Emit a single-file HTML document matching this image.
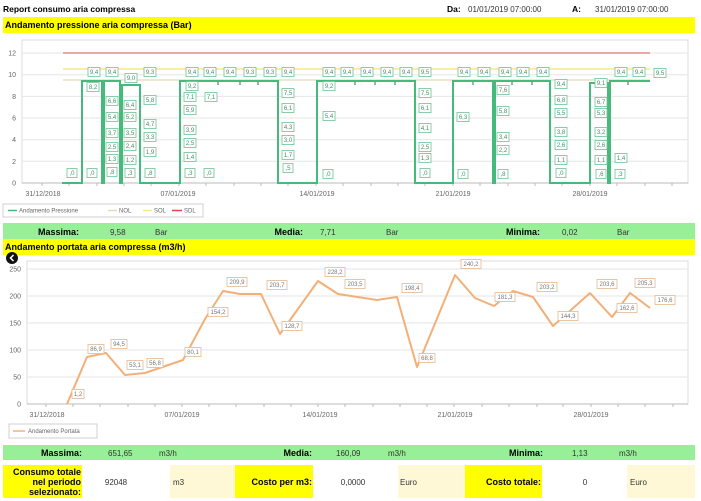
<!DOCTYPE html>
<html><head><meta charset="utf-8"><style>
html,body{margin:0;padding:0;background:#fff;}
svg{display:block;font-family:"Liberation Sans",Arial,sans-serif;}
.b{font-weight:bold;fill:#000;font-size:9px;}
.v{fill:#333;font-size:8px;}
.ax{fill:#666;font-size:7px;}
.gl{stroke:#e6e6e6;stroke-width:1;}
.pl rect{fill:#fff;stroke:#6cc494;stroke-width:0.8;}
.pl text{fill:#4a8a6a;font-size:6px;text-anchor:middle;}
.fl rect{fill:#fff;stroke:#e3b98f;stroke-width:0.8;}
.fl text{fill:#777;font-size:6px;text-anchor:middle;}
</style></head><body>
<svg width="701" height="501" viewBox="0 0 701 501" xmlns="http://www.w3.org/2000/svg">
<!-- header -->
<text x="3" y="12" class="b" style="font-size:8.5px">Report consumo aria compressa</text>
<text x="447" y="12" class="b" style="font-size:8.5px">Da:</text>
<text x="468" y="12" class="v">01/01/2019 07:00:00</text>
<text x="572" y="12" class="b" style="font-size:8.5px">A:</text>
<text x="595" y="12" class="v">31/01/2019 07:00:00</text>
<rect x="3" y="17" width="692" height="16" fill="#ffff00"/>
<text x="5" y="28" class="b">Andamento pressione aria compressa (Bar)</text>

<!-- chart 1 frame/grid -->
<rect x="22" y="40" width="666" height="143" fill="none" stroke="#dcdcdc"/>
<g class="gl">
<line x1="22" y1="161.3" x2="688" y2="161.3"/><line x1="22" y1="139.7" x2="688" y2="139.7"/>
<line x1="22" y1="118" x2="688" y2="118"/><line x1="22" y1="96.4" x2="688" y2="96.4"/>
<line x1="22" y1="74.7" x2="688" y2="74.7"/><line x1="22" y1="53" x2="688" y2="53"/>
</g>
<line x1="22" y1="183" x2="688" y2="183" stroke="#bbb"/>
<g class="ax" text-anchor="end">
<text x="16" y="185.5">0</text><text x="16" y="163.8">2</text><text x="16" y="142.2">4</text>
<text x="16" y="120.5">6</text><text x="16" y="98.9">8</text><text x="16" y="77.2">10</text><text x="16" y="55.5">12</text>
</g>
<g stroke="#bbb">
<line x1="42" y1="183" x2="42" y2="186"/><line x1="69" y1="183" x2="69" y2="186"/><line x1="97" y1="183" x2="97" y2="186"/><line x1="124" y1="183" x2="124" y2="186"/><line x1="151" y1="183" x2="151" y2="186"/><line x1="179" y1="183" x2="179" y2="186"/><line x1="206" y1="183" x2="206" y2="186"/><line x1="234" y1="183" x2="234" y2="186"/><line x1="261" y1="183" x2="261" y2="186"/><line x1="288" y1="183" x2="288" y2="186"/><line x1="316" y1="183" x2="316" y2="186"/><line x1="343" y1="183" x2="343" y2="186"/><line x1="371" y1="183" x2="371" y2="186"/><line x1="398" y1="183" x2="398" y2="186"/><line x1="425" y1="183" x2="425" y2="186"/><line x1="453" y1="183" x2="453" y2="186"/><line x1="480" y1="183" x2="480" y2="186"/><line x1="508" y1="183" x2="508" y2="186"/><line x1="535" y1="183" x2="535" y2="186"/><line x1="562" y1="183" x2="562" y2="186"/><line x1="590" y1="183" x2="590" y2="186"/><line x1="617" y1="183" x2="617" y2="186"/><line x1="645" y1="183" x2="645" y2="186"/><line x1="672" y1="183" x2="672" y2="186"/>
</g>
<g class="ax" text-anchor="middle">
<text x="43" y="196">31/12/2018</text><text x="178" y="196">07/01/2019</text><text x="317" y="196">14/01/2019</text>
<text x="453" y="196">21/01/2019</text><text x="590" y="196">28/01/2019</text>
</g>
<!-- limit lines -->
<line x1="63" y1="53" x2="650" y2="53" stroke="#e88a8a" stroke-width="1.5"/>
<line x1="63" y1="69" x2="650" y2="69" stroke="#f3ec86" stroke-width="1.5"/>
<line x1="63" y1="80" x2="650" y2="80" stroke="#e2dbbd" stroke-width="1.2"/>
<!-- pressure series -->
<polyline fill="none" stroke="#46b97c" stroke-width="2" points="62,183 82,183 82,81 102,81 102,183 104,183 104,81 120,81 120,183 122,183 122,85 140,85 140,183 180,183 180,81 278,81 278,183 317,183 317,81 415,81 415,183 453,183 453,81 493,81 493,183 495,183 495,81 550,81 550,183 590,183 590,83 608,83 608,183 610,183 610,81 650,81"/>
<g stroke="#46b97c" stroke-width="1.5">
<line x1="218" y1="81" x2="218" y2="85"/><line x1="240" y1="81" x2="240" y2="85"/><line x1="258" y1="81" x2="258" y2="85"/>
<line x1="355" y1="81" x2="355" y2="85"/><line x1="375" y1="81" x2="375" y2="85"/><line x1="395" y1="81" x2="395" y2="85"/>
<line x1="473" y1="81" x2="473" y2="85"/><line x1="512" y1="81" x2="512" y2="85"/><line x1="532" y1="81" x2="532" y2="85"/><line x1="628" y1="81" x2="628" y2="85"/>
</g>
<!-- pressure labels -->
<g class="pl">
<rect x="88" y="67.5" width="12" height="9"/><text x="94" y="74">9,4</text>
<rect x="106" y="67.5" width="12" height="9"/><text x="112" y="74">9,4</text>
<rect x="125" y="73.5" width="12" height="9"/><text x="131" y="80">9,0</text>
<rect x="144" y="67.5" width="12" height="9"/><text x="150" y="74">9,3</text>
<rect x="186" y="67.5" width="12" height="9"/><text x="192" y="74">9,4</text>
<rect x="204" y="67.5" width="12" height="9"/><text x="210" y="74">9,4</text>
<rect x="224" y="67.5" width="12" height="9"/><text x="230" y="74">9,4</text>
<rect x="244" y="67.5" width="12" height="9"/><text x="250" y="74">9,3</text>
<rect x="264" y="67.5" width="12" height="9"/><text x="270" y="74">9,3</text>
<rect x="282" y="67.5" width="12" height="9"/><text x="288" y="74">9,4</text>
<rect x="323" y="67.5" width="12" height="9"/><text x="329" y="74">9,4</text>
<rect x="341" y="67.5" width="12" height="9"/><text x="347" y="74">9,4</text>
<rect x="361" y="67.5" width="12" height="9"/><text x="367" y="74">9,4</text>
<rect x="381" y="67.5" width="12" height="9"/><text x="387" y="74">9,4</text>
<rect x="400" y="67.5" width="12" height="9"/><text x="406" y="74">9,4</text>
<rect x="419" y="67.5" width="12" height="9"/><text x="425" y="74">9,5</text>
<rect x="458" y="67.5" width="12" height="9"/><text x="464" y="74">9,4</text>
<rect x="478" y="67.5" width="12" height="9"/><text x="484" y="74">9,4</text>
<rect x="499" y="67.5" width="12" height="9"/><text x="505" y="74">9,4</text>
<rect x="517" y="67.5" width="12" height="9"/><text x="523" y="74">9,4</text>
<rect x="537" y="67.5" width="12" height="9"/><text x="543" y="74">9,4</text>
<rect x="615" y="67.5" width="12" height="9"/><text x="621" y="74">9,4</text>
<rect x="633" y="67.5" width="12" height="9"/><text x="639" y="74">9,4</text>
<rect x="654" y="68.5" width="12" height="9"/><text x="660" y="75">9,5</text>
<rect x="87" y="82.5" width="12" height="9"/><text x="93" y="89">8,2</text>
<rect x="186" y="81.5" width="12" height="9"/><text x="192" y="88">9,2</text>
<rect x="323" y="81.5" width="12" height="9"/><text x="329" y="88">9,2</text>
<rect x="555" y="79.5" width="12" height="9"/><text x="561" y="86">9,4</text>
<rect x="595" y="78.5" width="12" height="9"/><text x="601" y="85">9,1</text>

<rect x="106" y="96.5" width="12" height="9"/><text x="112" y="103">6,6</text>
<rect x="106" y="112.5" width="12" height="9"/><text x="112" y="119">5,4</text>
<rect x="106" y="128.5" width="12" height="9"/><text x="112" y="135">3,7</text>
<rect x="106" y="142.5" width="12" height="9"/><text x="112" y="149">2,5</text>
<rect x="106" y="154.5" width="12" height="9"/><text x="112" y="161">1,3</text>
<rect x="107" y="167.5" width="10" height="9"/><text x="112" y="174">,8</text>

<rect x="124" y="100.5" width="12" height="9"/><text x="130" y="107">6,4</text>
<rect x="124" y="112.5" width="12" height="9"/><text x="130" y="119">5,2</text>
<rect x="124" y="128.5" width="12" height="9"/><text x="130" y="135">3,5</text>
<rect x="124" y="141.5" width="12" height="9"/><text x="130" y="148">2,4</text>
<rect x="124" y="155.5" width="12" height="9"/><text x="130" y="162">1,2</text>
<rect x="125" y="168.5" width="10" height="9"/><text x="130" y="175">,3</text>

<rect x="144" y="95.5" width="12" height="9"/><text x="150" y="102">5,8</text>
<rect x="144" y="119.5" width="12" height="9"/><text x="150" y="126">4,7</text>
<rect x="144" y="132.5" width="12" height="9"/><text x="150" y="139">3,3</text>
<rect x="144" y="147.5" width="12" height="9"/><text x="150" y="154">1,9</text>
<rect x="145" y="168.5" width="10" height="9"/><text x="150" y="175">,8</text>

<rect x="184" y="92.5" width="12" height="9"/><text x="190" y="99">7,1</text>
<rect x="184" y="105.5" width="12" height="9"/><text x="190" y="112">5,9</text>
<rect x="184" y="125.5" width="12" height="9"/><text x="190" y="132">3,9</text>
<rect x="184" y="138.5" width="12" height="9"/><text x="190" y="145">2,5</text>
<rect x="184" y="152.5" width="12" height="9"/><text x="190" y="159">1,4</text>
<rect x="185" y="168.5" width="10" height="9"/><text x="190" y="175">,3</text>
<rect x="205" y="92.5" width="12" height="9"/><text x="211" y="99">7,1</text>

<rect x="282" y="88.5" width="12" height="9"/><text x="288" y="95">7,5</text>
<rect x="282" y="103.5" width="12" height="9"/><text x="288" y="110">6,1</text>
<rect x="282" y="122.5" width="12" height="9"/><text x="288" y="129">4,3</text>
<rect x="282" y="135.5" width="12" height="9"/><text x="288" y="142">3,0</text>
<rect x="282" y="150.5" width="12" height="9"/><text x="288" y="157">1,7</text>
<rect x="283" y="163.5" width="10" height="9"/><text x="288" y="170">,5</text>
<rect x="323" y="111.5" width="12" height="9"/><text x="329" y="118">5,4</text>

<rect x="419" y="88.5" width="12" height="9"/><text x="425" y="95">7,5</text>
<rect x="419" y="103.5" width="12" height="9"/><text x="425" y="110">6,1</text>
<rect x="419" y="123.5" width="12" height="9"/><text x="425" y="130">4,1</text>
<rect x="419" y="142.5" width="12" height="9"/><text x="425" y="149">2,5</text>
<rect x="419" y="153.5" width="12" height="9"/><text x="425" y="160">1,3</text>
<rect x="420" y="168.5" width="10" height="9"/><text x="425" y="175">,0</text>
<rect x="457" y="112.5" width="12" height="9"/><text x="463" y="119">6,3</text>

<rect x="497" y="85.5" width="12" height="9"/><text x="503" y="92">7,6</text>
<rect x="497" y="106.5" width="12" height="9"/><text x="503" y="113">5,8</text>
<rect x="497" y="132.5" width="12" height="9"/><text x="503" y="139">3,4</text>
<rect x="497" y="145.5" width="12" height="9"/><text x="503" y="152">2,2</text>
<rect x="498" y="169.5" width="10" height="9"/><text x="503" y="176">,8</text>

<rect x="555" y="95.5" width="12" height="9"/><text x="561" y="102">6,8</text>
<rect x="555" y="108.5" width="12" height="9"/><text x="561" y="115">5,5</text>
<rect x="555" y="127.5" width="12" height="9"/><text x="561" y="134">3,8</text>
<rect x="555" y="140.5" width="12" height="9"/><text x="561" y="147">2,6</text>
<rect x="555" y="155.5" width="12" height="9"/><text x="561" y="162">1,1</text>
<rect x="556" y="168.5" width="10" height="9"/><text x="561" y="175">,0</text>

<rect x="595" y="97.5" width="12" height="9"/><text x="601" y="104">6,7</text>
<rect x="595" y="108.5" width="12" height="9"/><text x="601" y="115">5,3</text>
<rect x="595" y="127.5" width="12" height="9"/><text x="601" y="134">3,2</text>
<rect x="595" y="140.5" width="12" height="9"/><text x="601" y="147">2,6</text>
<rect x="595" y="155.5" width="12" height="9"/><text x="601" y="162">1,1</text>
<rect x="596" y="169.5" width="10" height="9"/><text x="601" y="176">,6</text>
<rect x="615" y="153.5" width="12" height="9"/><text x="621" y="160">1,4</text>
<rect x="615" y="169.5" width="10" height="9"/><text x="620" y="176">,3</text>

<rect x="67" y="168.5" width="10" height="9"/><text x="72" y="175">,0</text>
<rect x="87" y="168.5" width="10" height="9"/><text x="92" y="175">,0</text>
<rect x="204" y="168.5" width="10" height="9"/><text x="209" y="175">,0</text>
<rect x="323" y="169.5" width="10" height="9"/><text x="328" y="176">,0</text>
<rect x="458" y="169.5" width="10" height="9"/><text x="463" y="176">,0</text>
</g>
<!-- legend 1 -->
<rect x="3" y="204" width="200" height="13" fill="#fff" stroke="#d0d0d0"/>
<line x1="8" y1="210.5" x2="17" y2="210.5" stroke="#46b97c" stroke-width="1.5"/>
<text x="19" y="212.5" class="ax" style="font-size:6px">Andamento Pressione</text>
<line x1="108" y1="210.5" x2="117" y2="210.5" stroke="#e2dbbd" stroke-width="1.5"/>
<text x="119" y="212.5" class="ax" style="font-size:6px">NOL</text>
<line x1="143" y1="210.5" x2="152" y2="210.5" stroke="#f3ec86" stroke-width="1.5"/>
<text x="154" y="212.5" class="ax" style="font-size:6px">SOL</text>
<line x1="172" y1="210.5" x2="182" y2="210.5" stroke="#e04848" stroke-width="1.5"/>
<text x="184" y="212.5" class="ax" style="font-size:6px">SDL</text>

<!-- stats 1 -->
<rect x="3" y="223" width="692" height="16" fill="#97f097"/>
<text x="79" y="235" class="b" text-anchor="end">Massima:</text>
<text x="110" y="235" class="v">9,58</text><text x="155" y="235" class="v">Bar</text>
<text x="303" y="235" class="b" text-anchor="end">Media:</text>
<text x="320" y="235" class="v">7,71</text><text x="386" y="235" class="v">Bar</text>
<text x="540" y="235" class="b" text-anchor="end">Minima:</text>
<text x="562" y="235" class="v">0,02</text><text x="617" y="235" class="v">Bar</text>

<!-- title 2 -->
<rect x="3" y="239" width="692" height="16" fill="#ffff00"/>
<text x="5" y="250" class="b">Andamento portata aria compressa (m3/h)</text>

<!-- chart 2 -->
<rect x="27" y="261" width="661" height="143" fill="none" stroke="#dcdcdc"/>
<g class="gl">
<line x1="27" y1="377" x2="688" y2="377"/><line x1="27" y1="350" x2="688" y2="350"/>
<line x1="27" y1="323" x2="688" y2="323"/><line x1="27" y1="296" x2="688" y2="296"/>
<line x1="27" y1="269" x2="688" y2="269"/>
</g>
<line x1="27" y1="404" x2="688" y2="404" stroke="#bbb"/>
<g class="ax" text-anchor="end">
<text x="21" y="406.5">0</text><text x="21" y="379.5">50</text><text x="21" y="352.5">100</text>
<text x="21" y="325.5">150</text><text x="21" y="298.5">200</text><text x="21" y="271.5">250</text>
</g>
<g stroke="#bbb">
<line x1="46" y1="404" x2="46" y2="407"/><line x1="73" y1="404" x2="73" y2="407"/><line x1="100" y1="404" x2="100" y2="407"/><line x1="128" y1="404" x2="128" y2="407"/><line x1="155" y1="404" x2="155" y2="407"/><line x1="182" y1="404" x2="182" y2="407"/><line x1="209" y1="404" x2="209" y2="407"/><line x1="236" y1="404" x2="236" y2="407"/><line x1="264" y1="404" x2="264" y2="407"/><line x1="291" y1="404" x2="291" y2="407"/><line x1="318" y1="404" x2="318" y2="407"/><line x1="345" y1="404" x2="345" y2="407"/><line x1="373" y1="404" x2="373" y2="407"/><line x1="400" y1="404" x2="400" y2="407"/><line x1="427" y1="404" x2="427" y2="407"/><line x1="454" y1="404" x2="454" y2="407"/><line x1="482" y1="404" x2="482" y2="407"/><line x1="509" y1="404" x2="509" y2="407"/><line x1="537" y1="404" x2="537" y2="407"/><line x1="563" y1="404" x2="563" y2="407"/><line x1="591" y1="404" x2="591" y2="407"/><line x1="618" y1="404" x2="618" y2="407"/><line x1="645" y1="404" x2="645" y2="407"/><line x1="673" y1="404" x2="673" y2="407"/>
</g>
<g class="ax" text-anchor="middle">
<text x="47" y="417">31/12/2018</text><text x="182" y="417">07/01/2019</text><text x="320" y="417">14/01/2019</text>
<text x="455" y="417">21/01/2019</text><text x="591" y="417">28/01/2019</text>
</g>
<polyline fill="none" stroke="#f2b078" stroke-width="2" stroke-linejoin="round" points="67,404 87,357 106,353 125,375 145,373 183,360 205,319 223,291 240,294 261,294 280,334 318,281 338,294 377,300 397,297 417,367 455,275 475,298 494,306 513,291 533,297 553,326 590,293 612,317 630,293 650,308"/>
<g class="fl">
<rect x="72" y="389.5" width="12" height="9"/><text x="78" y="396">1,2</text>
<rect x="88" y="344.5" width="16" height="9"/><text x="96" y="351">86,9</text>
<rect x="111" y="339.5" width="16" height="9"/><text x="119" y="346">94,5</text>
<rect x="127" y="360.5" width="16" height="9"/><text x="135" y="367">53,1</text>
<rect x="147" y="358.5" width="16" height="9"/><text x="155" y="365">56,8</text>
<rect x="185" y="347.5" width="16" height="9"/><text x="193" y="354">80,1</text>
<rect x="208" y="307.5" width="20" height="9"/><text x="218" y="314">154,2</text>
<rect x="227" y="277.5" width="20" height="9"/><text x="237" y="284">209,9</text>
<rect x="267" y="280.5" width="20" height="9"/><text x="277" y="287">203,7</text>
<rect x="282" y="321.5" width="20" height="9"/><text x="292" y="328">128,7</text>
<rect x="325" y="267.5" width="20" height="9"/><text x="335" y="274">228,2</text>
<rect x="345" y="279.5" width="20" height="9"/><text x="355" y="286">203,5</text>
<rect x="402" y="283.5" width="20" height="9"/><text x="412" y="290">198,4</text>
<rect x="419" y="353.5" width="16" height="9"/><text x="427" y="360">68,8</text>
<rect x="461" y="259.5" width="20" height="9"/><text x="471" y="266">240,2</text>
<rect x="495" y="292.5" width="20" height="9"/><text x="505" y="299">181,3</text>
<rect x="537" y="282.5" width="20" height="9"/><text x="547" y="289">203,2</text>
<rect x="558" y="311.5" width="20" height="9"/><text x="568" y="318">144,3</text>
<rect x="597" y="279.5" width="20" height="9"/><text x="607" y="286">203,6</text>
<rect x="617" y="303.5" width="20" height="9"/><text x="627" y="310">162,6</text>
<rect x="635" y="278.5" width="20" height="9"/><text x="645" y="285">205,3</text>
<rect x="655" y="295.5" width="20" height="9"/><text x="665" y="302">176,6</text>
</g>
<!-- back icon -->
<circle cx="12" cy="258" r="6" fill="#111"/>
<polyline points="13.5,255 10.5,258 13.5,261" fill="none" stroke="#fff" stroke-width="1.5"/>
<!-- legend 2 -->
<rect x="9" y="424" width="88" height="14" fill="#fff" stroke="#d0d0d0"/>
<line x1="13" y1="431" x2="25" y2="431" stroke="#f2b078" stroke-width="1.5"/>
<text x="28" y="433" class="ax" style="font-size:6px">Andamento Portata</text>

<!-- stats 2 -->
<rect x="3" y="445" width="692" height="15" fill="#97f097"/>
<text x="82" y="456" class="b" text-anchor="end">Massima:</text>
<text x="108" y="456" class="v">651,65</text><text x="159" y="456" class="v">m3/h</text>
<text x="312" y="456" class="b" text-anchor="end">Media:</text>
<text x="336" y="456" class="v">160,09</text><text x="388" y="456" class="v">m3/h</text>
<text x="543" y="456" class="b" text-anchor="end">Minima:</text>
<text x="572" y="456" class="v">1,13</text><text x="619" y="456" class="v">m3/h</text>

<!-- bottom row -->
<rect x="3" y="465" width="79" height="33" fill="#ffff00"/>
<text x="81" y="475" class="b" text-anchor="end">Consumo totale</text>
<text x="81" y="485" class="b" text-anchor="end">nel periodo</text>
<text x="81" y="495" class="b" text-anchor="end">selezionato:</text>
<text x="116" y="485" class="v" text-anchor="middle">92048</text>
<rect x="170" y="465" width="65" height="33" fill="#fff8d6"/>
<text x="173" y="485" class="v">m3</text>
<rect x="235" y="465" width="78" height="33" fill="#ffff00"/>
<text x="312" y="485" class="b" text-anchor="end">Costo per m3:</text>
<text x="353" y="485" class="v" text-anchor="middle">0,0000</text>
<rect x="398" y="465" width="67" height="33" fill="#fff8d6"/>
<text x="400" y="485" class="v">Euro</text>
<rect x="465" y="465" width="77" height="33" fill="#ffff00"/>
<text x="541" y="485" class="b" text-anchor="end">Costo totale:</text>
<text x="585" y="485" class="v" text-anchor="middle">0</text>
<rect x="627" y="465" width="68" height="33" fill="#fff8d6"/>
<text x="630" y="485" class="v">Euro</text>
</svg>
</body></html>
